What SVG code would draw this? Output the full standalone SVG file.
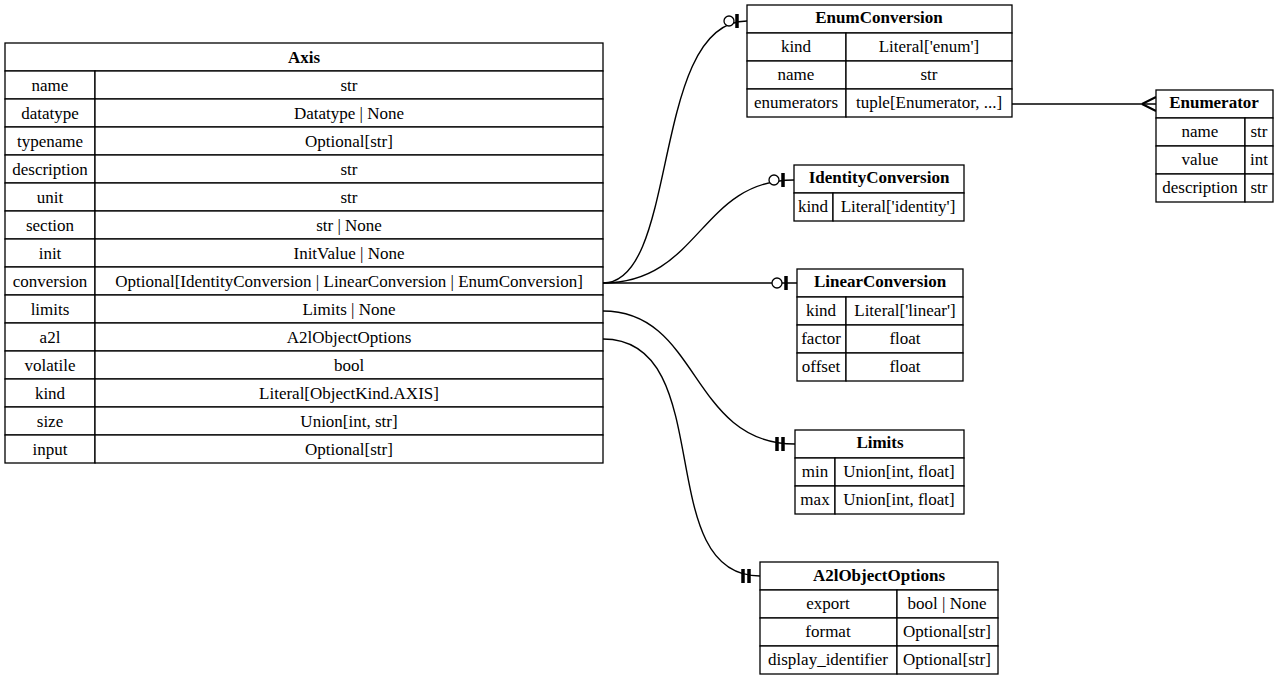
<svg xmlns="http://www.w3.org/2000/svg" width="1279" height="680" viewBox="0 0 1279 680">
<style>
rect{fill:#fff;stroke:#000;stroke-width:1.3}
text{font-family:"Liberation Serif",serif;font-size:17px;text-anchor:middle;dominant-baseline:central;fill:#000}
.h{font-weight:bold}
.c{fill:none;stroke:#000;stroke-width:1.4}
.bar{stroke:#000;stroke-width:3.5}
.o{fill:#fff;stroke:#000;stroke-width:1.3}
</style>
<rect x="0" y="0" width="1279" height="680" style="stroke:none"/>
<g id="connectors">
<path class="c" d="M603,283 C680,283 650,21 747,21"/>
<circle class="o" cx="729" cy="21" r="5"/><line class="bar" x1="737" y1="14" x2="737" y2="28"/>
<path class="c" d="M603,283 C700,283 700,180 794,180"/>
<circle class="o" cx="774" cy="180" r="5"/><line class="bar" x1="783" y1="173" x2="783" y2="187"/>
<path class="c" d="M603,283 L797,283"/>
<circle class="o" cx="777" cy="283" r="5"/><line class="bar" x1="786" y1="276" x2="786" y2="290"/>
<path class="c" d="M603,311 C700,311 690,444 795,444"/>
<line class="bar" x1="777" y1="437" x2="777" y2="451"/><line class="bar" x1="783" y1="437" x2="783" y2="451"/>
<path class="c" d="M603,339 C720,339 650,576 760,576"/>
<line class="bar" x1="743" y1="569" x2="743" y2="583"/><line class="bar" x1="749" y1="569" x2="749" y2="583"/>
<path class="c" d="M1012,104 L1156,104"/>
<path class="c" d="M1142,104 L1156,97 M1142,104 L1156,111" style="stroke-width:2"/>
</g>
<g id="Axis">
<rect x="5" y="43" width="598" height="28"/><text class="h" x="304" y="57">Axis</text>
<rect x="5" y="71" width="90" height="28"/><rect x="95" y="71" width="508" height="28"/><text x="50" y="85">name</text><text x="349" y="85">str</text>
<rect x="5" y="99" width="90" height="28"/><rect x="95" y="99" width="508" height="28"/><text x="50" y="113">datatype</text><text x="349" y="113">Datatype | None</text>
<rect x="5" y="127" width="90" height="28"/><rect x="95" y="127" width="508" height="28"/><text x="50" y="141">typename</text><text x="349" y="141">Optional[str]</text>
<rect x="5" y="155" width="90" height="28"/><rect x="95" y="155" width="508" height="28"/><text x="50" y="169">description</text><text x="349" y="169">str</text>
<rect x="5" y="183" width="90" height="28"/><rect x="95" y="183" width="508" height="28"/><text x="50" y="197">unit</text><text x="349" y="197">str</text>
<rect x="5" y="211" width="90" height="28"/><rect x="95" y="211" width="508" height="28"/><text x="50" y="225">section</text><text x="349" y="225">str | None</text>
<rect x="5" y="239" width="90" height="28"/><rect x="95" y="239" width="508" height="28"/><text x="50" y="253">init</text><text x="349" y="253">InitValue | None</text>
<rect x="5" y="267" width="90" height="28"/><rect x="95" y="267" width="508" height="28"/><text x="50" y="281">conversion</text><text x="349" y="281">Optional[IdentityConversion | LinearConversion | EnumConversion]</text>
<rect x="5" y="295" width="90" height="28"/><rect x="95" y="295" width="508" height="28"/><text x="50" y="309">limits</text><text x="349" y="309">Limits | None</text>
<rect x="5" y="323" width="90" height="28"/><rect x="95" y="323" width="508" height="28"/><text x="50" y="337">a2l</text><text x="349" y="337">A2lObjectOptions</text>
<rect x="5" y="351" width="90" height="28"/><rect x="95" y="351" width="508" height="28"/><text x="50" y="365">volatile</text><text x="349" y="365">bool</text>
<rect x="5" y="379" width="90" height="28"/><rect x="95" y="379" width="508" height="28"/><text x="50" y="393">kind</text><text x="349" y="393">Literal[ObjectKind.AXIS]</text>
<rect x="5" y="407" width="90" height="28"/><rect x="95" y="407" width="508" height="28"/><text x="50" y="421">size</text><text x="349" y="421">Union[int, str]</text>
<rect x="5" y="435" width="90" height="28"/><rect x="95" y="435" width="508" height="28"/><text x="50" y="449">input</text><text x="349" y="449">Optional[str]</text>
</g>
<g id="EnumConversion">
<rect x="747" y="5" width="265" height="28"/><text class="h" x="879" y="17">EnumConversion</text>
<rect x="747" y="33" width="99" height="28"/><rect x="846" y="33" width="166" height="28"/><text x="796" y="46">kind</text><text x="929" y="46">Literal['enum']</text>
<rect x="747" y="61" width="99" height="28"/><rect x="846" y="61" width="166" height="28"/><text x="796" y="74">name</text><text x="929" y="74">str</text>
<rect x="747" y="89" width="99" height="28"/><rect x="846" y="89" width="166" height="28"/><text x="796" y="102">enumerators</text><text x="929" y="102">tuple[Enumerator, ...]</text>
</g>
<g id="Enumerator">
<rect x="1156" y="90" width="117" height="28"/><text class="h" x="1214" y="102">Enumerator</text>
<rect x="1156" y="118" width="89" height="28"/><rect x="1245" y="118" width="28" height="28"/><text x="1200" y="131">name</text><text x="1259" y="131">str</text>
<rect x="1156" y="146" width="89" height="28"/><rect x="1245" y="146" width="28" height="28"/><text x="1200" y="159">value</text><text x="1259" y="159">int</text>
<rect x="1156" y="174" width="89" height="28"/><rect x="1245" y="174" width="28" height="28"/><text x="1200" y="187">description</text><text x="1259" y="187">str</text>
</g>
<g id="IdentityConversion">
<rect x="794" y="165" width="170" height="28"/><text class="h" x="879" y="177">IdentityConversion</text>
<rect x="794" y="193" width="39" height="28"/><rect x="833" y="193" width="131" height="28"/><text x="813" y="206">kind</text><text x="898" y="206">Literal['identity']</text>
</g>
<g id="LinearConversion">
<rect x="797" y="269" width="166" height="28"/><text class="h" x="880" y="281">LinearConversion</text>
<rect x="797" y="297" width="49" height="28"/><rect x="846" y="297" width="117" height="28"/><text x="821" y="310">kind</text><text x="905" y="310">Literal['linear']</text>
<rect x="797" y="325" width="49" height="28"/><rect x="846" y="325" width="117" height="28"/><text x="821" y="338">factor</text><text x="905" y="338">float</text>
<rect x="797" y="353" width="49" height="28"/><rect x="846" y="353" width="117" height="28"/><text x="821" y="366">offset</text><text x="905" y="366">float</text>
</g>
<g id="Limits">
<rect x="795" y="430" width="169" height="28"/><text class="h" x="880" y="442">Limits</text>
<rect x="795" y="458" width="40" height="28"/><rect x="835" y="458" width="129" height="28"/><text x="815" y="471">min</text><text x="899" y="471">Union[int, float]</text>
<rect x="795" y="486" width="40" height="28"/><rect x="835" y="486" width="129" height="28"/><text x="815" y="499">max</text><text x="899" y="499">Union[int, float]</text>
</g>
<g id="A2lObjectOptions">
<rect x="760" y="562" width="238" height="28"/><text class="h" x="879" y="575">A2lObjectOptions</text>
<rect x="760" y="590" width="137" height="28"/><rect x="897" y="590" width="101" height="28"/><text x="828" y="603">export</text><text x="947" y="603">bool | None</text>
<rect x="760" y="618" width="137" height="28"/><rect x="897" y="618" width="101" height="28"/><text x="828" y="631">format</text><text x="947" y="631">Optional[str]</text>
<rect x="760" y="646" width="137" height="28"/><rect x="897" y="646" width="101" height="28"/><text x="828" y="659">display_identifier</text><text x="947" y="659">Optional[str]</text>
</g>
</svg>
